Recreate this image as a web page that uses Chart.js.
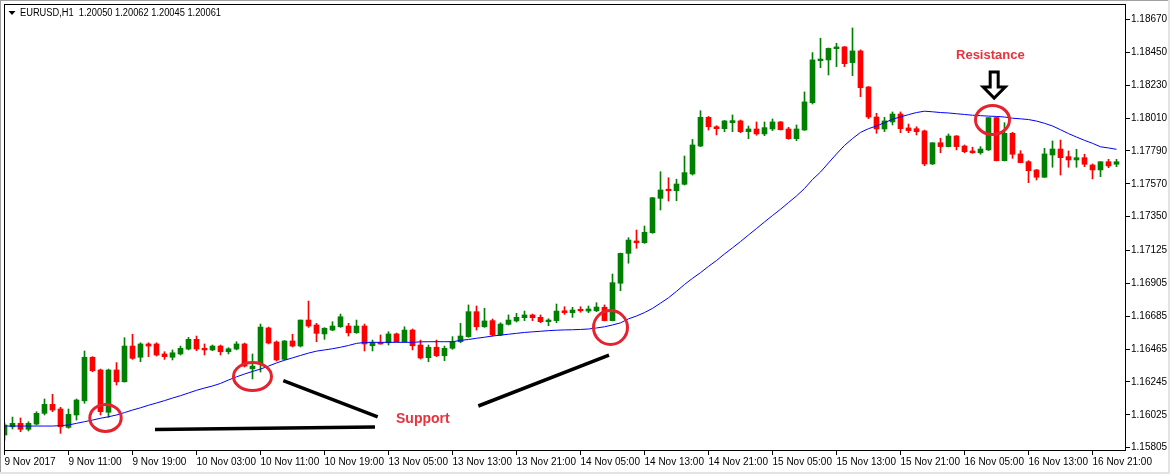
<!DOCTYPE html>
<html>
<head>
<meta charset="utf-8">
<script src="https://cdn.jsdelivr.net/npm/chart.js@4/dist/chart.umd.min.js"></script>
<style>
  html, body { margin: 0; padding: 0; background: #fff; }
  #wrap { width: 1170px; height: 474px; position: relative; }
</style>
</head>
<body>
<div id="wrap"><canvas id="chart"></canvas></div>
<script>
// EURUSD H1, 140 hourly candles from 9 Nov 03:00 to 16 Nov 23:00
const symbolHeader = "EURUSD,H1  1.20050 1.20062 1.20045 1.20061";

const xTickLabels = ["9 Nov 2017", "9 Nov 11:00", "9 Nov 19:00", "10 Nov 03:00", "10 Nov 11:00", "10 Nov 19:00",
    "13 Nov 05:00", "13 Nov 13:00", "13 Nov 21:00", "14 Nov 05:00", "14 Nov 13:00", "14 Nov 21:00",
    "15 Nov 05:00", "15 Nov 13:00", "15 Nov 21:00", "16 Nov 05:00", "16 Nov 13:00", "16 Nov 21:00"];

const yTickValues = [1.18670, 1.18450, 1.18230, 1.18010, 1.17790, 1.17570, 1.17350,
    1.17125, 1.16905, 1.16685, 1.16465, 1.16245, 1.16025, 1.15805];

const opens = [
    1.15890, 1.15945, 1.15968, 1.15928, 1.15963, 1.16035, 1.16095, 1.16064, 1.15941, 1.16024,
    1.16119, 1.16410, 1.16325, 1.16042, 1.16325, 1.16246, 1.16485, 1.16410, 1.16499, 1.16499,
    1.16432, 1.16410, 1.16432, 1.16465, 1.16530, 1.16470, 1.16459, 1.16485, 1.16447, 1.16465,
    1.16499, 1.16333, 1.16365, 1.16606, 1.16512, 1.16396, 1.16519, 1.16485, 1.16659, 1.16626,
    1.16566, 1.16592, 1.16614, 1.16619, 1.16574, 1.16619, 1.16487, 1.16510, 1.16507, 1.16566,
    1.16514, 1.16592, 1.16492, 1.16407, 1.16477, 1.16420, 1.16470, 1.16514, 1.16548, 1.16715,
    1.16614, 1.16655, 1.16559, 1.16630, 1.16653, 1.16675, 1.16693, 1.16677, 1.16648, 1.16655,
    1.16721, 1.16708, 1.16731, 1.16719, 1.16721, 1.16744, 1.16655, 1.16905, 1.17105, 1.17188,
    1.17176, 1.17243, 1.17473, 1.17534, 1.17524, 1.17567, 1.17636, 1.17823, 1.18015, 1.17952,
    1.17939, 1.17979, 1.17991, 1.17919, 1.17937, 1.17904, 1.17937, 1.17984, 1.17937, 1.17872,
    1.17930, 1.18113, 1.18394, 1.18399, 1.18474, 1.18486, 1.18381, 1.18459, 1.18218, 1.18017,
    1.17937, 1.17984, 1.18037, 1.17944, 1.17939, 1.17924, 1.17703, 1.17845, 1.17819, 1.17890,
    1.17823, 1.17790, 1.17778, 1.17797, 1.18013, 1.17725, 1.17908, 1.17770, 1.17718, 1.17663,
    1.17614, 1.17763, 1.17803, 1.17752, 1.17730, 1.17745, 1.17696, 1.17663, 1.17718, 1.17701
];

const highs = [
    1.15970, 1.16010, 1.16004, 1.15979, 1.16046, 1.16131, 1.16162, 1.16075, 1.16064, 1.16131,
    1.16452, 1.16414, 1.16331, 1.16331, 1.16374, 1.16541, 1.16564, 1.16507, 1.16507, 1.16507,
    1.16447, 1.16459, 1.16485, 1.16543, 1.16552, 1.16499, 1.16492, 1.16492, 1.16474, 1.16514,
    1.16505, 1.16432, 1.16632, 1.16612, 1.16519, 1.16522, 1.16564, 1.16659, 1.16786, 1.16637,
    1.16608, 1.16648, 1.16699, 1.16637, 1.16659, 1.16632, 1.16525, 1.16559, 1.16581, 1.16572,
    1.16614, 1.16599, 1.16525, 1.16492, 1.16525, 1.16485, 1.16548, 1.16637, 1.16760, 1.16753,
    1.16738, 1.16666, 1.16641, 1.16693, 1.16704, 1.16719, 1.16699, 1.16693, 1.16668, 1.16766,
    1.16748, 1.16744, 1.16748, 1.16753, 1.16775, 1.16760, 1.16967, 1.17107, 1.17210, 1.17261,
    1.17288, 1.17480, 1.17651, 1.17611, 1.17601, 1.17756, 1.17867, 1.18059, 1.18021, 1.17959,
    1.17994, 1.18031, 1.17997, 1.17957, 1.17984, 1.17984, 1.18004, 1.17987, 1.17948, 1.17964,
    1.18185, 1.18448, 1.18544, 1.18479, 1.18510, 1.18489, 1.18613, 1.18466, 1.18221, 1.18042,
    1.18015, 1.18051, 1.18051, 1.17970, 1.17952, 1.17930, 1.17845, 1.17875, 1.17904, 1.17893,
    1.17830, 1.17815, 1.17819, 1.18013, 1.18015, 1.17979, 1.17915, 1.17792, 1.17725, 1.17666,
    1.17808, 1.17857, 1.17863, 1.17790, 1.17801, 1.17768, 1.17703, 1.17718, 1.17734, 1.17734
];

const lows = [
    1.15856, 1.15930, 1.15912, 1.15917, 1.15957, 1.16024, 1.16046, 1.15901, 1.15935, 1.15990,
    1.16102, 1.16313, 1.16024, 1.16008, 1.16224, 1.16244, 1.16396, 1.16380, 1.16414, 1.16418,
    1.16396, 1.16392, 1.16425, 1.16459, 1.16454, 1.16425, 1.16454, 1.16425, 1.16432, 1.16459,
    1.16345, 1.16265, 1.16311, 1.16499, 1.16385, 1.16392, 1.16479, 1.16479, 1.16610, 1.16514,
    1.16530, 1.16588, 1.16610, 1.16552, 1.16570, 1.16452, 1.16452, 1.16497, 1.16492, 1.16512,
    1.16510, 1.16459, 1.16398, 1.16380, 1.16414, 1.16387, 1.16463, 1.16507, 1.16543, 1.16592,
    1.16610, 1.16552, 1.16554, 1.16626, 1.16646, 1.16655, 1.16655, 1.16641, 1.16621, 1.16641,
    1.16697, 1.16677, 1.16711, 1.16708, 1.16715, 1.16653, 1.16653, 1.16855, 1.17039, 1.17139,
    1.17172, 1.17239, 1.17395, 1.17455, 1.17457, 1.17562, 1.17629, 1.17819, 1.17930, 1.17897,
    1.17919, 1.17919, 1.17912, 1.17872, 1.17895, 1.17892, 1.17926, 1.17930, 1.17868, 1.17859,
    1.17927, 1.18104, 1.18347, 1.18298, 1.18354, 1.18354, 1.18294, 1.18153, 1.18006, 1.17908,
    1.17919, 1.17964, 1.17912, 1.17912, 1.17897, 1.17691, 1.17699, 1.17778, 1.17817, 1.17797,
    1.17778, 1.17774, 1.17768, 1.17793, 1.17723, 1.17723, 1.17741, 1.17710, 1.17578, 1.17596,
    1.17613, 1.17681, 1.17629, 1.17681, 1.17681, 1.17685, 1.17603, 1.17618, 1.17678, 1.17685
];

const closes = [
    1.15957, 1.15968, 1.15928, 1.15968, 1.16035, 1.16095, 1.16057, 1.15945, 1.16028, 1.16124,
    1.16410, 1.16320, 1.16046, 1.16325, 1.16246, 1.16485, 1.16403, 1.16499, 1.16485, 1.16425,
    1.16414, 1.16440, 1.16470, 1.16530, 1.16465, 1.16459, 1.16485, 1.16447, 1.16467, 1.16499,
    1.16351, 1.16351, 1.16612, 1.16505, 1.16392, 1.16519, 1.16485, 1.16659, 1.16619, 1.16570,
    1.16604, 1.16619, 1.16681, 1.16574, 1.16619, 1.16499, 1.16510, 1.16499, 1.16566, 1.16514,
    1.16592, 1.16487, 1.16405, 1.16477, 1.16420, 1.16470, 1.16514, 1.16552, 1.16715, 1.16614,
    1.16653, 1.16559, 1.16632, 1.16659, 1.16677, 1.16693, 1.16675, 1.16648, 1.16659, 1.16719,
    1.16708, 1.16726, 1.16721, 1.16733, 1.16746, 1.16655, 1.16909, 1.17105, 1.17194, 1.17176,
    1.17246, 1.17477, 1.17529, 1.17524, 1.17569, 1.17645, 1.17830, 1.18015, 1.17952, 1.17939,
    1.17991, 1.17993, 1.17919, 1.17937, 1.17904, 1.17946, 1.17984, 1.17932, 1.17872, 1.17937,
    1.18118, 1.18399, 1.18405, 1.18476, 1.18486, 1.18374, 1.18459, 1.18213, 1.18017, 1.17937,
    1.17991, 1.18037, 1.17939, 1.17926, 1.17919, 1.17703, 1.17845, 1.17819, 1.17890, 1.17819,
    1.17785, 1.17778, 1.17803, 1.18013, 1.17725, 1.17908, 1.17768, 1.17712, 1.17658, 1.17614,
    1.17770, 1.17803, 1.17745, 1.17730, 1.17745, 1.17701, 1.17663, 1.17718, 1.17690, 1.17718
];

// moving average (blue line)
const maValues = [
    1.15950, 1.15950, 1.15950, 1.15950, 1.15950, 1.15950, 1.15950, 1.15953, 1.15957, 1.15968,
    1.15979, 1.15990, 1.16002, 1.16012, 1.16024, 1.16040, 1.16057, 1.16072, 1.16089, 1.16104,
    1.16120, 1.16137, 1.16153, 1.16171, 1.16189, 1.16204, 1.16218, 1.16235, 1.16258, 1.16279,
    1.16298, 1.16315, 1.16331, 1.16351, 1.16372, 1.16390, 1.16406, 1.16422, 1.16438, 1.16451,
    1.16459, 1.16467, 1.16477, 1.16489, 1.16503, 1.16509, 1.16510, 1.16510, 1.16510, 1.16510,
    1.16510, 1.16510, 1.16513, 1.16514, 1.16514, 1.16514, 1.16514, 1.16523, 1.16529, 1.16537,
    1.16544, 1.16552, 1.16558, 1.16564, 1.16570, 1.16576, 1.16580, 1.16584, 1.16588, 1.16591,
    1.16593, 1.16594, 1.16596, 1.16599, 1.16606, 1.16614, 1.16626, 1.16640, 1.16667, 1.16686,
    1.16709, 1.16737, 1.16772, 1.16808, 1.16851, 1.16897, 1.16938, 1.16976, 1.17018, 1.17057,
    1.17101, 1.17142, 1.17184, 1.17228, 1.17271, 1.17315, 1.17358, 1.17400, 1.17445, 1.17489,
    1.17539, 1.17599, 1.17649, 1.17710, 1.17770, 1.17827, 1.17873, 1.17914, 1.17939, 1.17957,
    1.17979, 1.18002, 1.18018, 1.18033, 1.18047, 1.18056, 1.18052, 1.18047, 1.18044, 1.18039,
    1.18034, 1.18029, 1.18026, 1.18023, 1.18021, 1.18017, 1.18009, 1.18005, 1.18000, 1.17990,
    1.17975, 1.17957, 1.17932, 1.17906, 1.17883, 1.17861, 1.17841, 1.17818, 1.17810, 1.17801
];

// hand-drawn notes on the chart, anchored in (bar index, price)
const noteCircles = [
    { i: 12.625, p: 1.16004, rx: 15.7, ry: 13.5 },
    { i: 31.0, p: 1.16281, rx: 19, ry: 14 },
    { i: 75.75, p: 1.16609, rx: 17, ry: 17 },
    { i: 123.5, p: 1.17997, rx: 17, ry: 14.5 }
];
const noteLines = [
    [18.81, 1.15927, 46.31, 1.15943],
    [34.85, 1.16253, 46.65, 1.16012],
    [59.23, 1.16084, 75.56, 1.16425]
];
const noteTexts = [
    { text: "Support", i: 48.94, p: 1.15997, size: 14 },
    { text: "Resistance", i: 118.94, p: 1.18432, size: 13 }
];
const noteArrow = { i: 123.71, p: 1.18144 };

const GREEN = "#008000";
const RED = "#ff0000";
const candleColors = closes.map((c, i) => c >= opens[i] ? GREEN : RED);
const FONT = "Liberation Sans";

const decorPlugin = {
    id: "decor",
    beforeDraw(chart) {
        const c = chart.ctx;
        c.save();
        c.fillStyle = "#fff";
        c.fillRect(0, 0, chart.width, chart.height);
        c.fillStyle = "#a0a0a0";
        c.fillRect(0, 0, chart.width, 1);
        c.fillRect(0, 0, 1, chart.height);
        c.fillStyle = "#e3e3e3";
        c.fillRect(0, chart.height - 2, chart.width, 2);
        c.fillRect(chart.width - 2, 0, 2, chart.height);
        c.restore();
    },
    afterDraw(chart) {
        const c = chart.ctx;
        const a = chart.chartArea;
        const xs = chart.scales.x, ys = chart.scales.y;
        const px = i => xs.getPixelForValue(i);
        const py = p => ys.getPixelForValue(p);
        c.save();

        // chart frame
        c.strokeStyle = "#000";
        c.lineWidth = 1;
        c.strokeRect(Math.round(a.left) + 0.5, Math.round(a.top) + 0.5,
            Math.round(a.right - a.left) - 1, Math.round(a.bottom - a.top) - 1);

        // header
        c.fillStyle = "#000";
        c.beginPath();
        c.moveTo(8.5, 11); c.lineTo(15.5, 11); c.lineTo(12, 15); c.closePath();
        c.fill();
        c.font = "10px '" + FONT + "'";
        c.textBaseline = "middle";
        c.textAlign = "left";
        c.fillText(symbolHeader, 20, 13, 201);

        // circles
        c.strokeStyle = "#e5232f";
        c.lineWidth = 3;
        noteCircles.forEach(n => {
            c.beginPath();
            c.ellipse(px(n.i), py(n.p), n.rx, n.ry, 0, 0, Math.PI * 2);
            c.stroke();
        });

        // black strokes
        c.strokeStyle = "#000";
        c.lineWidth = 3.5;
        noteLines.forEach(l => {
            c.beginPath();
            c.moveTo(px(l[0]), py(l[1]));
            c.lineTo(px(l[2]), py(l[3]));
            c.stroke();
        });

        // labels
        c.fillStyle = "#e8323c";
        noteTexts.forEach(t => {
            c.font = "bold " + t.size + "px '" + FONT + "'";
            c.fillText(t.text, px(t.i), py(t.p));
        });

        // hollow down arrow
        const ax = px(noteArrow.i), ay = py(noteArrow.p);
        const pts = [[-4, -26], [4, -26], [4, -11], [11, -11], [0, 0], [-11, -11], [-4, -11]];
        c.beginPath();
        pts.forEach((q, k) => k ? c.lineTo(ax + q[0], ay + q[1]) : c.moveTo(ax + q[0], ay + q[1]));
        c.closePath();
        c.fillStyle = "#fff";
        c.fill();
        c.strokeStyle = "#000";
        c.lineWidth = 3;
        c.lineJoin = "miter";
        c.stroke();

        c.restore();
    }
};

const ctx = document.getElementById("chart");

new Chart(ctx, {
    type: "bar",
    data: {
        datasets: [
            {
                type: "line",
                data: maValues.map((v, i) => ({ x: i, y: v })),
                borderColor: "#0000ff",
                borderWidth: 1,
                pointRadius: 0,
                tension: 0
            },
            {
                data: opens.map((o, i) => ({ x: i, y: [o, closes[i]] })),
                backgroundColor: candleColors,
                barThickness: 5,
                minBarLength: 1,
                grouped: false
            },
            {
                data: lows.map((l, i) => ({ x: i, y: [l, highs[i]] })),
                backgroundColor: candleColors,
                barThickness: 1,
                grouped: false
            }
        ]
    },
    options: {
        responsive: true,
        maintainAspectRatio: false,
        animation: false,
        events: [],
        layout: { padding: { left: 4, top: 4, right: 0, bottom: 0 } },
        plugins: {
            legend: { display: false },
            tooltip: { enabled: false }
        },
        scales: {
            x: {
                type: "linear",
                bounds: "data",
                min: -0.0625,
                max: 140.1875,
                offset: false,
                afterBuildTicks(scale) {
                    scale.ticks = xTickLabels.map((_, k) => ({ value: k * 8 }));
                },
                afterFit(scale) { scale.height = 23; },
                grid: { drawOnChartArea: false, drawTicks: true, tickLength: 4, color: "#000", offset: false },
                border: { display: false },
                ticks: {
                    align: "start",
                    autoSkip: false,
                    maxRotation: 0,
                    padding: 1,
                    color: "#000",
                    font: { family: FONT, size: 10 },
                    callback: v => xTickLabels[Math.round(v / 8)]
                }
            },
            y: {
                type: "linear",
                position: "right",
                min: 1.15783,
                max: 1.18773,
                afterBuildTicks(scale) {
                    scale.ticks = yTickValues.map(v => ({ value: v }));
                },
                afterFit(scale) {
                    scale.width = 44;
                    scale.paddingTop = 0;
                    scale.paddingBottom = 0;
                },
                grid: { drawOnChartArea: false, drawTicks: true, tickLength: 4, color: "#000" },
                border: { display: false },
                ticks: {
                    padding: 1,
                    autoSkip: false,
                    color: "#000",
                    font: { family: FONT, size: 10 },
                    callback: v => v.toFixed(5)
                }
            }
        }
    },
    plugins: [decorPlugin]
});
</script>
</body>
</html>
